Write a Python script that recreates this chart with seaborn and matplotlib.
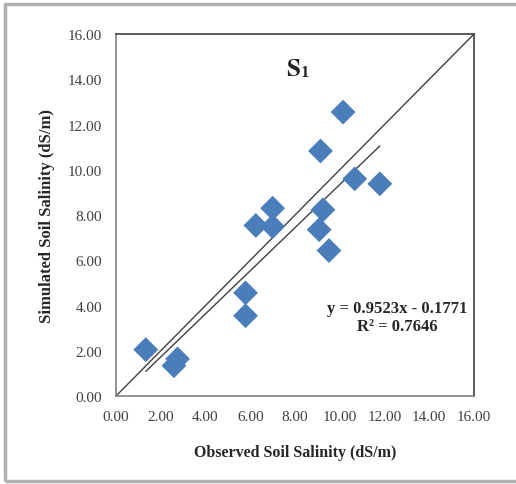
import numpy as np
import pandas as pd
import matplotlib
matplotlib.use("Agg")
import matplotlib.pyplot as plt
import seaborn as sns
from matplotlib.patches import Rectangle

# observed vs simulated soil salinity
observed = [1.33, 2.75, 2.59, 5.79, 5.79, 6.25, 7.00, 7.00, 9.14, 10.15, 10.67, 11.79, 9.25, 9.08, 9.52]
simulated = [2.05, 1.64, 1.34, 4.56, 3.55, 7.54, 8.30, 7.49, 10.83, 12.55, 9.60, 9.38, 8.23, 7.35, 6.43]
slope, intercept = 0.9523, -0.1771
r2 = 0.7646
ticks = [0, 2, 4, 6, 8, 10, 12, 14, 16]

df = pd.DataFrame({"observed": observed, "simulated": simulated})

sns.set_style("white")
plt.rcParams["font.family"] = ["Liberation Serif", "DejaVu Serif"]
plt.rcParams["mathtext.fontset"] = "stix"

fig = plt.figure(figsize=(5.16, 4.85), dpi=100)
ax = fig.add_axes([0.2248, 0.1814, 0.6938, 0.7464])

# outer grey frame
fig.patches.append(Rectangle((5 / 516, 3 / 485), 1.2, 477 / 485, transform=fig.transFigure,
                             fill=False, edgecolor="#b0b0b0", lw=2.5))

sns.scatterplot(data=df, x="observed", y="simulated", marker="D", s=160,
                color="#4a7ebb", edgecolor="none", ax=ax, zorder=3)

# 1:1 line
ax.plot([0, 16], [0, 16], color="#404040", lw=1.0, zorder=2)
# linear trend line
xs = np.array([min(observed), max(observed)])
ax.plot(xs, slope * xs + intercept, color="#404040", lw=1.0, zorder=2)

ax.set_xlim(0, 16)
ax.set_ylim(0, 16)
ax.set_xticks(ticks)
ax.set_yticks(ticks)
ax.set_xticklabels([f"{t:.2f}" for t in ticks])
ax.set_yticklabels([f"{t:.2f}" for t in ticks])
ax.tick_params(axis="both", direction="out", length=4, width=1, color="#808080",
               labelsize=11, labelcolor="#404040")
ax.tick_params(axis="x", pad=6)
ax.tick_params(axis="y", pad=6)

for side in ["left", "bottom"]:
    ax.spines[side].set_color("#808080")
    ax.spines[side].set_linewidth(1.2)
for side in ["top", "right"]:
    ax.spines[side].set_visible(True)
    ax.spines[side].set_color("#404040")
    ax.spines[side].set_linewidth(1.2)

ax.set_xlabel("Observed Soil Salinity (dS/m)", fontsize=11.5, fontweight="bold", labelpad=15)
ax.set_ylabel("Simulated Soil Salinity (dS/m)", fontsize=12, fontweight="bold", labelpad=9)

ax.text(7.95, 14.45, r"$\mathbf{S}$", fontsize=18, ha="center", va="center")
ax.text(8.42, 14.33, "1", fontsize=12, ha="center", va="center", fontweight="bold")

ax.text(12.57, 3.5, f"y = {slope:.4f}x - {abs(intercept):.4f}\nR² = {r2:.4f}",
        fontsize=12, fontweight="bold", ha="center", va="center", multialignment="center",
        linespacing=1.2)

fig.savefig("out.png", dpi=100)
